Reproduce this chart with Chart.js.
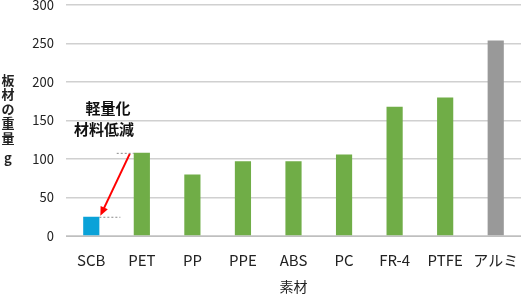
<!DOCTYPE html>
<html>
<head>
<meta charset="utf-8">
<script src="https://cdn.jsdelivr.net/npm/chart.js@4/dist/chart.umd.min.js"></script>
<style>
  html, body { margin: 0; padding: 0; background: #fff; }
  #wrap { width: 521px; height: 295px; position: relative; }
</style>
</head>
<body>
<div id="wrap"><canvas id="chart"></canvas></div>
<script>
// データ
const materials = ['SCB', 'PET', 'PP', 'PPE', 'ABS', 'PC', 'FR-4', 'PTFE', 'アルミ'];
const weights = [25, 108, 80, 97, 97, 106, 168, 180, 254];
const yTicks = [0, 50, 100, 150, 200, 250, 300];
const yTitleChars = ['板', '材', 'の', '重', '量', 'g'];
const noteLines = ['軽量化', '材料低減'];

const barColors = ['#0aa2d8', '#70ad47', '#70ad47', '#70ad47', '#70ad47', '#70ad47', '#70ad47', '#70ad47', '#999999'];
const FONT = '"Noto Sans CJK JP", "Noto Sans", sans-serif';

// 注釈（縦書きタイトル、矢印、点線、テキスト）
const notePlugin = {
    id: 'notes',
    afterDraw(chart) {
        const ctx = chart.ctx;
        const x = chart.scales.x;
        const y = chart.scales.y;
        const meta = chart.getDatasetMeta(0);
        const half = meta.data[0].width / 2;

        ctx.save();
        // 縦のタイトル
        ctx.fillStyle = '#222';
        ctx.font = 'bold 13px ' + FONT;
        ctx.textAlign = 'center';
        ctx.textBaseline = 'middle';
        yTitleChars.forEach((c, i) => {
            ctx.fillText(c, 8, 80 + i * 14.5 + (c === 'g' ? 6 : 0));
        });

        const xS = x.getPixelForValue(0);
        const yS = y.getPixelForValue(weights[0]);
        const xP = x.getPixelForValue(1);
        const yP = y.getPixelForValue(weights[1]);

        // 点線
        ctx.strokeStyle = '#888';
        ctx.lineWidth = 1;
        ctx.setLineDash([2, 2]);
        ctx.beginPath();
        ctx.moveTo(xS + half, yS + 0.5);
        ctx.lineTo(xS + half + 21, yS + 0.5);
        ctx.moveTo(xP - half - 17, yP + 0.5);
        ctx.lineTo(xP - half, yP + 0.5);
        ctx.stroke();
        ctx.setLineDash([]);

        // 矢印
        const x1 = xP - half - 4, y1 = yP + 1;
        const x2 = xS + half + 1, y2 = yS - 1;
        const ang = Math.atan2(y2 - y1, x2 - x1);
        ctx.strokeStyle = '#ff0000';
        ctx.fillStyle = '#ff0000';
        ctx.lineWidth = 2;
        ctx.beginPath();
        ctx.moveTo(x1, y1);
        ctx.lineTo(x2 - 6 * Math.cos(ang), y2 - 6 * Math.sin(ang));
        ctx.stroke();
        ctx.beginPath();
        ctx.moveTo(x2, y2);
        ctx.lineTo(x2 - 9 * Math.cos(ang) + 4 * Math.sin(ang), y2 - 9 * Math.sin(ang) - 4 * Math.cos(ang));
        ctx.lineTo(x2 - 9 * Math.cos(ang) - 4 * Math.sin(ang), y2 - 9 * Math.sin(ang) + 4 * Math.cos(ang));
        ctx.closePath();
        ctx.fill();

        // テキスト
        ctx.fillStyle = '#111';
        ctx.font = 'bold 15px ' + FONT;
        ctx.textAlign = 'center';
        ctx.fillText(noteLines[0], 108, 108);
        ctx.fillText(noteLines[1], 104, 129);
        ctx.restore();
    }
};

new Chart(document.getElementById('chart').getContext('2d'), {
    type: 'bar',
    data: {
        labels: materials,
        datasets: [{
            data: weights,
            backgroundColor: barColors,
            barPercentage: 0.64,
            categoryPercentage: 0.5
        }]
    },
    options: {
        responsive: true,
        maintainAspectRatio: false,
        animation: false,
        layout: { padding: { top: 5, right: 0, left: 0, bottom: 0 } },
        plugins: {
            legend: { display: false },
            tooltip: { enabled: false }
        },
        scales: {
            x: {
                grid: { display: false },
                border: { color: '#bfbfbf', width: 1 },
                ticks: { color: '#222', font: { family: FONT, size: 15 }, padding: 7, maxRotation: 0 },
                title: { display: true, text: '素材', color: '#222', font: { family: FONT, size: 14 }, padding: { top: 5, bottom: 0 } },
                afterFit(scale) {
                    scale.height = 59;
                    scale.paddingLeft = 0;
                    scale.paddingRight = 0;
                }
            },
            y: {
                min: 0,
                max: 300,
                afterBuildTicks(scale) { scale.ticks = yTicks.map(v => ({ value: v })); },
                grid: { color: '#d0d0d0', lineWidth: 1.5, drawTicks: false },
                border: { display: false },
                ticks: { color: '#222', font: { family: FONT, size: 13 }, padding: 12 },
                afterFit(scale) {
                    scale.width = 66;
                    scale.paddingTop = 0;
                    scale.paddingBottom = 0;
                }
            }
        }
    },
    plugins: [notePlugin]
});
</script>
</body>
</html>
